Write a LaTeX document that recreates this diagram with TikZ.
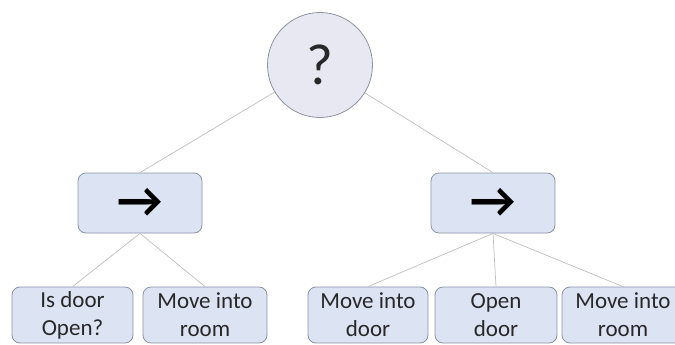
\documentclass[tikz,border=0pt]{standalone}
\usepackage{fontspec}
\setmainfont{Carlito}
\newfontfamily\arrowfont{Carlito}
\definecolor{boxfill}{RGB}{220,228,244}
\definecolor{boxdraw}{RGB}{140,146,162}
\definecolor{circfill}{RGB}{232,232,242}
\definecolor{linegray}{RGB}{190,190,190}
\definecolor{txt}{RGB}{40,40,40}
\tikzset{
  seqbox/.style={draw=boxdraw, fill=boxfill, line width=0.8pt, rounded corners=8pt,
    minimum width=124pt, minimum height=60pt, inner sep=0pt,
    font=\arrowfont\bfseries\fontsize{50}{50}\selectfont},
  leafbox/.style={draw=boxdraw, fill=boxfill, line width=0.8pt, rounded corners=8pt,
    minimum height=56pt, inner sep=0pt, align=center, text=txt,
    font=\fontsize{23}{28}\selectfont},
  selbox/.style={circle, draw=boxdraw, fill=circfill, line width=0.8pt,
    minimum size=105pt, inner sep=0pt, font=\fontsize{58}{60}\selectfont, text=txt},
  link/.style={draw=linegray, line width=0.7pt}
}
\begin{document}
\begin{tikzpicture}[x=1pt,y=-1pt]
\useasboundingbox (0,0) rectangle (675,345);
\clip (0,0) rectangle (675,345);
\node[selbox] (root) at (320,65) {?};
\node[seqbox] (s1) at (140,203) {→};
\node[seqbox] (s2) at (493,203) {→};
\node[leafbox, minimum width=121pt] (l1) at (72.5,315) {Is door\\Open?};
\node[leafbox, minimum width=124pt] (l2) at (205,315) {Move into\\room};
\node[leafbox, minimum width=120pt] (l3) at (368,315) {Move into\\door};
\node[leafbox, minimum width=122pt] (l4) at (496,315) {Open\\door};
\node[leafbox, minimum width=122pt] (l5) at (623,315) {Move into\\room};
\draw[link] (root) -- (s1.north);
\draw[link] (root) -- (s2.north);
\draw[link] (s1.south) -- (l1.north);
\draw[link] (s1.south) -- (l2.north);
\draw[link] (s2.south) -- (l3.north);
\draw[link] (s2.south) -- (l4.north);
\draw[link] (s2.south) -- (l5.north);
\end{tikzpicture}
\end{document}
